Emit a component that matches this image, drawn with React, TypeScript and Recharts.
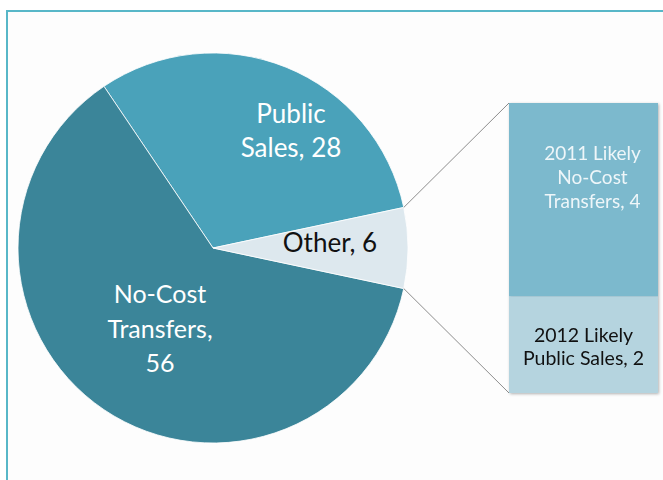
import { PieChart, Pie, Cell, BarChart, Bar, XAxis, YAxis, LabelList } from "recharts";

// pie: the "Other" slice is split out into the bar on the right
const pieNames = ["Public Sales", "No-Cost Transfers", "Other"];
const pieValues = [28, 56, 6];
const pieLabels = [["Public", "Sales, 28"], ["No-Cost", "Transfers,", "56"], ["Other, 6"]];

// bar: bottom segment first
const barNames = ["2012 Likely Public Sales", "2011 Likely No-Cost Transfers"];
const barValues = [2, 4];
const barLabels = [["2012 Likely", "Public Sales, 2"], ["2011 Likely", "No-Cost", "Transfers, 4"]];

const FONT = "Lato, 'Open Sans', sans-serif";
const W = 663;
const H = 480;

const CX = 213;
const CY = 248;
const R = 195;

const BAR_X = 509;
const BAR_Y = 103;
const BAR_W = 149;
const BAR_H = 290;

const pieColors = ["#4aa2ba", "#3b8599", "#dde8ee"];
const barColors = ["#b5d4df", "#7cb9cd"];

// where each pie label sits, relative to the pie centre (first baseline)
const pieLabelPos = [
  { dx: 78, dy: -125, lh: 34, size: 26, color: "#ffffff" },
  { dx: -53, dy: 55, lh: 34.5, size: 25, color: "#ffffff" },
  { dx: 117, dy: 4, lh: 30, size: 26, color: "#111111" },
];

const barLabelPos = [
  { dx: 0, dy: 46, lh: 23, size: 19.5, color: "#111111" },
  { dx: 9, dy: 57, lh: 24, size: 19, color: "#eef6f9" },
];

const pieData = pieNames.map((name, i) => ({ name, value: pieValues[i] }));
const total = pieValues.reduce((a, b) => a + b, 0);
const otherHalf = (pieValues[2] / total) * 180;

const barRow: Record<string, string | number> = { name: "Other" };
barNames.forEach((n, i) => {
  barRow[n] = barValues[i];
});
const barData = [barRow];
const barMax = barValues.reduce((a, b) => a + b, 0);

const renderPieLabel = (props: any) => {
  const { cx, cy, index } = props;
  const p = pieLabelPos[index];
  return (
    <text
      key={`pl-${index}`}
      x={cx + p.dx}
      y={cy + p.dy}
      textAnchor="middle"
      fill={p.color}
      fontSize={p.size}
      fontFamily={FONT}
    >
      {pieLabels[index].map((line, j) => (
        <tspan key={j} x={cx + p.dx} dy={j === 0 ? 0 : p.lh}>
          {line}
        </tspan>
      ))}
    </text>
  );
};

const makeBarLabel = (idx: number) => (props: any) => {
  const { x, y, width } = props;
  const p = barLabelPos[idx];
  const mx = Number(x) + Number(width) / 2 + p.dx;
  return (
    <text
      x={mx}
      y={Number(y) + p.dy}
      textAnchor="middle"
      fill={p.color}
      fontSize={p.size}
      fontFamily={FONT}
    >
      {barLabels[idx].map((line, j) => (
        <tspan key={j} x={mx} dy={j === 0 ? 0 : p.lh}>
          {line}
        </tspan>
      ))}
    </text>
  );
};

export default function App() {
  const rad = (otherHalf * Math.PI) / 180;
  const px = CX + R * Math.cos(rad);
  const pyTop = CY - R * Math.sin(rad);
  const pyBot = CY + R * Math.sin(rad);

  return (
    <div
      style={{
        position: "absolute",
        left: 0,
        top: 0,
        width: W,
        height: H,
        overflow: "hidden",
        background: "#ffffff",
        fontFamily: FONT,
      }}
    >
      <div
        style={{
          position: "absolute",
          left: 6,
          top: 10,
          width: W + 20,
          height: H + 20,
          borderTop: "2px solid #58b7c8",
          borderLeft: "2px solid #58b7c8",
          background: "#fdfdfd",
        }}
      />
      <div style={{ position: "absolute", left: 0, top: 0 }}>
        <PieChart width={W} height={H} margin={{ top: 0, right: 0, bottom: 0, left: 0 }}>
          <Pie
            data={pieData}
            dataKey="value"
            nameKey="name"
            cx={CX}
            cy={CY}
            outerRadius={R}
            startAngle={otherHalf}
            endAngle={otherHalf + 360}
            stroke="#ffffff"
            strokeWidth={0.8}
            label={renderPieLabel}
            labelLine={false}
            isAnimationActive={false}
          >
            {pieData.map((d, i) => (
              <Cell key={d.name} fill={pieColors[i]} />
            ))}
          </Pie>
        </PieChart>
      </div>
      <svg
        width={W}
        height={H}
        style={{ position: "absolute", left: 0, top: 0, pointerEvents: "none" }}
      >
        <line x1={px} y1={pyTop} x2={BAR_X} y2={BAR_Y} stroke="#808080" strokeWidth={0.9} />
        <line x1={px} y1={pyBot} x2={BAR_X} y2={BAR_Y + BAR_H} stroke="#808080" strokeWidth={0.9} />
      </svg>
      <div
        style={{
          position: "absolute",
          left: BAR_X,
          top: BAR_Y,
          filter: "drop-shadow(1px 1px 1.5px rgba(0,0,0,0.3))",
        }}
      >
        <BarChart
          width={BAR_W}
          height={BAR_H}
          data={barData}
          margin={{ top: 0, right: 0, bottom: 0, left: 0 }}
          barCategoryGap={0}
        >
          <XAxis dataKey="name" hide />
          <YAxis type="number" domain={[0, barMax]} hide />
          {barNames.map((n, i) => (
            <Bar
              key={n}
              dataKey={n}
              stackId="other"
              fill={barColors[i]}
              isAnimationActive={false}
            >
              <LabelList dataKey={n} content={makeBarLabel(i)} />
            </Bar>
          ))}
        </BarChart>
      </div>
    </div>
  );
}
